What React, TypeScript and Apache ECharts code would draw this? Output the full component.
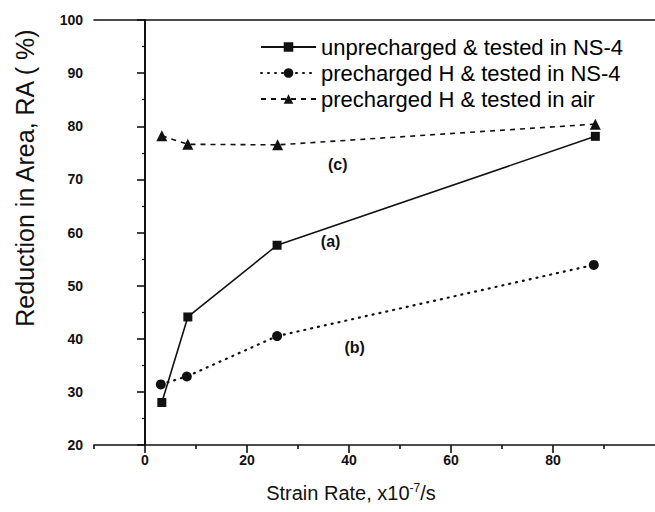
import React, { useEffect, useRef } from "react";
import * as echarts from "echarts";

const seriesNames = [
  "unprecharged & tested in NS-4",
  "precharged H & tested in NS-4",
  "precharged H & tested in air",
];
const unprechargedNS4: [number, number][] = [
  [3.3, 28.0],
  [8.4, 44.1],
  [25.9, 57.6],
  [88.3, 78.1],
];
const prechargedNS4: [number, number][] = [
  [3.1, 31.4],
  [8.2, 32.9],
  [25.9, 40.5],
  [88.0, 53.9],
];
const prechargedAir: [number, number][] = [
  [3.3, 78.2],
  [8.4, 76.6],
  [26.0, 76.5],
  [88.3, 80.4],
];
const annotations: { text: string; coord: [number, number] }[] = [
  { text: "(a)", coord: [36.4, 58.3] },
  { text: "(b)", coord: [41.1, 38.3] },
  { text: "(c)", coord: [37.8, 72.8] },
];
const xMajorTicks = [0, 20, 40, 60, 80];
const xMinorTicks = [-10, 10, 30, 50, 70, 90];
const yTitle = "Reduction in Area, RA ( %)";

const FONT = "'Liberation Sans', Arial, Helvetica, sans-serif";
const INK = "#111";

export default function App() {
  const ref = useRef<HTMLDivElement>(null);
  useEffect(() => {
    if (!ref.current) return;
    const chart = echarts.init(ref.current, undefined, { renderer: "svg" });
    const mark = (a: { text: string; coord: [number, number] }) => ({
      coord: a.coord,
      symbol: "circle",
      symbolSize: 0,
      label: {
        show: true,
        position: "inside",
        formatter: a.text,
        fontSize: 16,
        fontWeight: "bold",
        color: INK,
        fontFamily: FONT,
      },
    });
    chart.setOption({
      animation: false,
      backgroundColor: "#fff",
      grid: { left: 94, right: -10, top: 20, bottom: 67 },
      legend: {
        orient: "vertical",
        left: 255,
        top: 31,
        itemWidth: 55,
        itemHeight: 12,
        itemGap: 4,
        selectedMode: false,
        textStyle: { fontSize: 22, lineHeight: 22, color: "#000", fontFamily: FONT },
        data: seriesNames,
      },
      xAxis: [
        {
          type: "value",
          position: "bottom",
          min: -10,
          max: 100,
          interval: 10,
          axisLine: { show: true, lineStyle: { color: INK, width: 1.6 } },
          axisTick: { show: true, length: 4, lineStyle: { color: INK, width: 1.6 }, customValues: xMinorTicks },
          axisLabel: { customValues: xMajorTicks, fontSize: 14, fontWeight: "bold", color: INK, fontFamily: FONT, margin: 8 },
          splitLine: { show: false },
        },
        {
          type: "value",
          position: "bottom",
          min: -10,
          max: 100,
          interval: 10,
          axisLine: { show: false },
          axisTick: { show: true, length: 8, lineStyle: { color: INK, width: 1.6 }, customValues: xMajorTicks },
          axisLabel: { show: false },
          splitLine: { show: false },
        },
        {
          type: "value",
          position: "top",
          min: -10,
          max: 100,
          interval: 10,
          axisLine: { show: true, lineStyle: { color: INK, width: 1.6 } },
          axisTick: { show: false },
          axisLabel: { show: false },
          splitLine: { show: false },
        },
      ],
      yAxis: {
        type: "value",
        min: 20,
        max: 100,
        interval: 10,
        axisLine: { show: true, lineStyle: { color: INK, width: 2 } },
        axisTick: { show: true, length: 8, lineStyle: { color: INK, width: 1.6 } },
        minorTick: { show: true, splitNumber: 2, length: 3, lineStyle: { color: INK, width: 1.2 } },
        axisLabel: { fontSize: 14, fontWeight: "bold", color: INK, fontFamily: FONT, margin: 11 },
        splitLine: { show: false },
      },
      series: [
        {
          name: seriesNames[0],
          type: "line",
          xAxisIndex: 0,
          data: unprechargedNS4,
          symbol: "rect",
          symbolSize: 9,
          itemStyle: { color: INK },
          lineStyle: { color: INK, width: 1.6, type: "solid" },
          markPoint: { data: [mark(annotations[0])] },
        },
        {
          name: seriesNames[1],
          type: "line",
          xAxisIndex: 0,
          data: prechargedNS4,
          symbol: "circle",
          symbolSize: 10,
          itemStyle: { color: INK },
          lineStyle: { color: INK, width: 2.2, type: [1, 6], cap: "round" },
          markPoint: { data: [mark(annotations[1])] },
        },
        {
          name: seriesNames[2],
          type: "line",
          xAxisIndex: 0,
          data: prechargedAir,
          symbol: "triangle",
          symbolSize: 11,
          itemStyle: { color: INK },
          lineStyle: { color: INK, width: 1.6, type: [5, 5] },
          markPoint: { data: [mark(annotations[2])] },
        },
      ],
      graphic: [
        {
          type: "text",
          x: 25,
          y: 178,
          rotation: Math.PI / 2,
          style: {
            text: yTitle,
            fontSize: 25,
            fontFamily: FONT,
            fill: INK,
            align: "center",
            verticalAlign: "middle",
          },
        },
        {
          type: "text",
          x: 351,
          y: 493,
          style: {
            text: "Strain Rate, x10{s|-7}/s",
            fontSize: 20,
            fontFamily: FONT,
            fill: INK,
            align: "center",
            verticalAlign: "middle",
            rich: {
              s: { fontSize: 12, fontFamily: FONT, fill: INK, padding: [0, 0, 10, 0] },
            },
          },
        },
      ],
    });
    return () => chart.dispose();
  }, []);
  return (
    <div
      ref={ref}
      style={{ position: "fixed", left: 0, top: 0, width: 655, height: 512, background: "#fff" }}
    />
  );
}
